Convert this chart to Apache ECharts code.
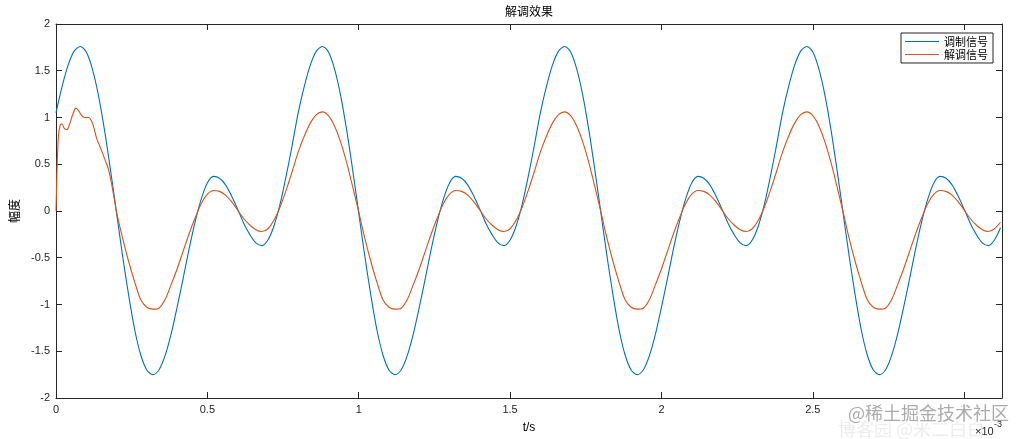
<!DOCTYPE html>
<html><head><meta charset="utf-8">
<script src="https://cdn.jsdelivr.net/npm/echarts@6/dist/echarts.min.js"></script>
<style>html,body{margin:0;padding:0;background:#fff}#c{width:1024px;height:439px}</style>
</head><body><div id="c"></div>
<script>
// time in ms (axis shows ×10^-3 s)
const tMs = [0,0.02,0.04,0.06,0.08,0.1,0.12,0.14,0.16,0.18,0.2,0.22,0.24,0.26,0.28,0.3,0.32,0.34,0.36,0.38,0.4,0.42,0.44,0.46,0.48,0.5,0.52,0.54,0.56,0.58,0.6,0.62,0.64,0.66,0.68,0.7,0.72,0.74,0.76,0.78,
0.8,0.82,0.84,0.86,0.88,0.9,0.92,0.94,0.96,0.98,1,1.02,1.04,1.06,1.08,1.1,1.12,1.14,1.16,1.18,1.2,1.22,1.24,1.26,1.28,1.3,1.32,1.34,1.36,1.38,1.4,1.42,1.44,1.46,1.48,1.5,1.52,1.54,1.56,1.58,
1.6,1.62,1.64,1.66,1.68,1.7,1.72,1.74,1.76,1.78,1.8,1.82,1.84,1.86,1.88,1.9,1.92,1.94,1.96,1.98,2,2.02,2.04,2.06,2.08,2.1,2.12,2.14,2.16,2.18,2.2,2.22,2.24,2.26,2.28,2.3,2.32,2.34,2.36,2.38,
2.4,2.42,2.44,2.46,2.48,2.5,2.52,2.54,2.56,2.58,2.6,2.62,2.64,2.66,2.68,2.7,2.72,2.74,2.76,2.78,2.8,2.82,2.84,2.86,2.88,2.9,2.92,2.94,2.96,2.98,3,3.02,3.04,3.06,3.08,3.1,3.12];

const modulated = [1.05,1.33,1.56,1.71,1.76,1.70,1.52,1.24,0.87,0.44,-0.02,-0.48,-0.90,-1.27,-1.54,-1.70,-1.75,-1.70,-1.55,-1.32,-1.03,-0.72,-0.40,-0.11,0.13,0.30,0.37,0.35,0.28,0.16,0.02,-0.13,-0.25,-0.34,-0.37,-0.31,-0.16,0.07,0.37,0.70,
1.05,1.33,1.56,1.71,1.76,1.70,1.52,1.24,0.87,0.44,-0.02,-0.48,-0.90,-1.27,-1.54,-1.70,-1.75,-1.70,-1.55,-1.32,-1.03,-0.72,-0.40,-0.11,0.13,0.30,0.37,0.35,0.28,0.16,0.02,-0.13,-0.25,-0.34,-0.37,-0.31,-0.16,0.07,0.37,0.70,
1.05,1.33,1.56,1.71,1.76,1.70,1.52,1.24,0.87,0.44,-0.02,-0.48,-0.90,-1.27,-1.54,-1.70,-1.75,-1.70,-1.55,-1.32,-1.03,-0.72,-0.40,-0.11,0.13,0.30,0.37,0.35,0.28,0.16,0.02,-0.13,-0.25,-0.34,-0.37,-0.31,-0.16,0.07,0.37,0.70,
1.05,1.33,1.56,1.71,1.76,1.70,1.52,1.24,0.87,0.44,-0.02,-0.48,-0.90,-1.27,-1.54,-1.70,-1.75,-1.70,-1.55,-1.32,-1.03,-0.72,-0.40,-0.11,0.13,0.30,0.37,0.35,0.28,0.16,0.02,-0.13,-0.25,-0.34,-0.37,-0.31,-0.18];

// demodulated: start-up transient samples, then the regular grid from 0.22 ms
const demodStartTime = [0,0.004,0.008,0.014,0.02,0.028,0.036,0.045,0.055,0.066,0.075,0.085,0.095,0.107,0.118,0.126,0.134,0.145,0.156,0.165,0.173,0.186,0.2];
const demodStart = [0,0.5,0.8,0.92,0.93,0.88,0.87,0.93,1.03,1.10,1.07,1.02,1.00,1.00,0.96,0.88,0.78,0.69,0.60,0.52,0.45,0.25,-0.01];
const demodulated = [-0.29,-0.54,-0.76,-0.95,-1.03,-1.05,-1.04,-0.95,-0.79,-0.62,-0.43,-0.24,-0.07,0.08,0.18,0.22,0.21,0.17,0.10,0.01,-0.08,-0.15,-0.20,-0.22,-0.19,-0.10,0.04,0.22,0.42,0.63,0.80,0.94,1.03,1.06,1.02,0.91,0.74,0.52,0.26,
-0.01,-0.29,-0.54,-0.76,-0.95,-1.03,-1.05,-1.04,-0.95,-0.79,-0.62,-0.43,-0.24,-0.07,0.08,0.18,0.22,0.21,0.17,0.10,0.01,-0.08,-0.15,-0.20,-0.22,-0.19,-0.10,0.04,0.22,0.42,0.63,0.80,0.94,1.03,1.06,1.02,0.91,0.74,0.52,0.26,
-0.01,-0.29,-0.54,-0.76,-0.95,-1.03,-1.05,-1.04,-0.95,-0.79,-0.62,-0.43,-0.24,-0.07,0.08,0.18,0.22,0.21,0.17,0.10,0.01,-0.08,-0.15,-0.20,-0.22,-0.19,-0.10,0.04,0.22,0.42,0.63,0.80,0.94,1.03,1.06,1.02,0.91,0.74,0.52,0.26,
-0.01,-0.29,-0.54,-0.76,-0.95,-1.03,-1.05,-1.04,-0.95,-0.79,-0.62,-0.43,-0.24,-0.07,0.08,0.18,0.22,0.21,0.17,0.10,0.01,-0.08,-0.15,-0.20,-0.22,-0.19,-0.12];

const seriesNames = ['调制信号','解调信号'];
const titleText = '解调效果';
const xName = 't/s';
const yName = '幅度';
const xTickValues = [0, 0.5, 1, 1.5, 2, 2.5, 3];
const xRange = {min:0, max:3.125};
const yTicks = {min:-2, max:2, interval:0.5};

const demodTime = demodStartTime.concat(tMs.slice(11));
const demodAll = demodStart.concat(demodulated);
const modData = tMs.map((t,i)=>[t, modulated[i]]);
const demodData = demodTime.map((t,i)=>[t, demodAll[i]]);

const AX = '#262626';
const FONT = 'Liberation Sans, Arial, Noto Sans CJK SC, sans-serif';
const CJK = 'Noto Sans CJK SC, sans-serif';

const chart = echarts.init(document.getElementById('c'), null, {renderer:'canvas'});
const yTickStyle = {show:true, inside:true, length:6, lineStyle:{color:AX, width:1}};
const xTickStyle = {show:true, inside:true, length:6, customValues:xTickValues, lineStyle:{color:AX, width:1}};
chart.setOption({
  animation:false,
  backgroundColor:'#fff',
  grid:{left:56, right:22, top:24, bottom:41},
  legend:{
    data:seriesNames, orient:'vertical', right:31, top:33,
    itemWidth:34, itemHeight:10, itemGap:2, padding:[3,5,3,4],
    borderColor:AX, borderWidth:1, backgroundColor:'#fff',
    icon:'path://M0,5L34,5L34,6L0,6Z',
    textStyle:{fontFamily:CJK, fontSize:11, color:'#000'}
  },
  xAxis:[{
    type:'value', min:xRange.min, max:xRange.max,
    name:xName, nameLocation:'middle', nameGap:24,
    nameTextStyle:{fontFamily:FONT, fontSize:12, color:'#000'},
    axisLine:{show:true, onZero:false, lineStyle:{color:AX, width:1}},
    axisTick:xTickStyle, splitLine:{show:false},
    axisLabel:{margin:6, fontFamily:FONT, fontSize:11, color:AX, customValues:xTickValues}
  },{
    type:'value', position:'top', min:xRange.min, max:xRange.max,
    axisLine:{show:true, onZero:false, lineStyle:{color:AX, width:1}},
    axisTick:xTickStyle, axisLabel:{show:false}, splitLine:{show:false}
  }],
  yAxis:[{
    type:'value', min:yTicks.min, max:yTicks.max, interval:yTicks.interval,
    name:yName, nameLocation:'middle', nameGap:27, nameRotate:90,
    nameTextStyle:{fontFamily:CJK, fontSize:12, color:'#000'},
    axisLine:{show:true, onZero:false, lineStyle:{color:AX, width:1}},
    axisTick:yTickStyle, splitLine:{show:false},
    axisLabel:{margin:6, fontFamily:FONT, fontSize:11, color:AX}
  },{
    type:'value', position:'right', min:yTicks.min, max:yTicks.max, interval:yTicks.interval,
    axisLine:{show:true, onZero:false, lineStyle:{color:AX, width:1}},
    axisTick:yTickStyle, axisLabel:{show:false}, splitLine:{show:false}
  }],
  series:[
    {name:seriesNames[0], type:'line', data:modData, showSymbol:false, smooth:0.3,
     lineStyle:{color:'#0072BD', width:1.1}, itemStyle:{color:'#0072BD'}, z:3},
    {name:seriesNames[1], type:'line', data:demodData, showSymbol:false, smooth:0.3,
     lineStyle:{color:'#D95319', width:1.1}, itemStyle:{color:'#D95319'}, z:4}
  ],
  graphic:[
    {type:'text', x:529, y:11, style:{text:titleText, fontFamily:CJK, fontSize:12, fill:'#000', align:'center', verticalAlign:'middle'}},
    {type:'text', x:838, y:429, z:50, style:{text:'博客园 @米二白白', fontFamily:CJK, fontSize:18, fill:'rgba(215,215,215,0.45)', verticalAlign:'middle'}},
    {type:'text', x:848, y:413, z:51, style:{text:'@稀土掘金技术社区', fontFamily:CJK, fontSize:18, fill:'rgba(150,150,150,0.8)', stroke:'rgba(255,255,255,0.9)', lineWidth:3, verticalAlign:'middle'}},
    {type:'text', x:975, y:426, z:60, style:{text:'×10', fontFamily:FONT, fontSize:11, fill:AX}},
    {type:'text', x:994, y:420, z:60, style:{text:'-3', fontFamily:FONT, fontSize:9, fill:AX}}
  ]
});
</script></body></html>
